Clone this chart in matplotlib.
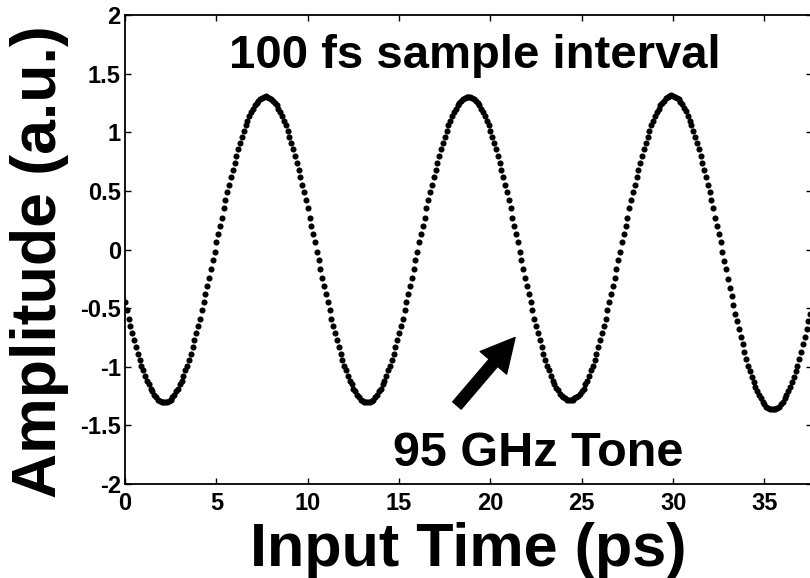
import matplotlib
matplotlib.use('Agg')
import matplotlib.pyplot as plt
import numpy as np

plt.rcParams['font.family'] = ['Liberation Sans', 'DejaVu Sans']
plt.rcParams['font.weight'] = 'bold'
plt.rcParams['axes.unicode_minus'] = False

sample_interval_ps = 0.1
amplitude = [
    -0.45, -0.52, -0.59, -0.65, -0.71, -0.77, -0.83, -0.89, -0.94, -0.99, -1.03, -1.08, -1.12, -1.15,
    -1.19, -1.21, -1.24, -1.26, -1.28, -1.29, -1.30, -1.30,
    -1.30, -1.30, -1.29, -1.28, -1.26, -1.24, -1.21, -1.19, -1.15, -1.12, -1.08, -1.03, -0.99, -0.94,
    -0.89, -0.83, -0.77, -0.71, -0.65, -0.59, -0.52, -0.45, -0.38, -0.31, -0.24, -0.17, -0.09, -0.02,
    0.06, 0.13, 0.20, 0.27, 0.35, 0.42, 0.49, 0.55, 0.62, 0.68, 0.74, 0.80, 0.86, 0.91,
    0.96, 1.01, 1.06, 1.10, 1.14, 1.17, 1.20, 1.23, 1.25, 1.27, 1.28, 1.29, 1.30,
    # cycle 1
    1.31, 1.30, 1.29, 1.28, 1.27, 1.25, 1.23, 1.20, 1.17, 1.14, 1.10, 1.06, 1.01, 0.96,
    0.91, 0.86, 0.80, 0.74, 0.68, 0.62, 0.55, 0.49, 0.42, 0.35, 0.27, 0.20, 0.13, 0.06,
    -0.02, -0.09, -0.17, -0.24, -0.31, -0.38, -0.45, -0.52, -0.59, -0.65, -0.71, -0.77, -0.83, -0.89,
    -0.94, -0.99, -1.03, -1.08, -1.12, -1.15, -1.19, -1.21, -1.24, -1.26, -1.28, -1.29, -1.30, -1.30,
    -1.30, -1.30, -1.29, -1.28, -1.26, -1.24, -1.21, -1.19, -1.15, -1.12, -1.08, -1.03, -0.99, -0.94,
    -0.89, -0.83, -0.77, -0.71, -0.65, -0.59, -0.52, -0.45, -0.38, -0.31, -0.24, -0.17, -0.09, -0.02,
    0.06, 0.13, 0.20, 0.27, 0.35, 0.42, 0.49, 0.55, 0.62, 0.68, 0.74, 0.80, 0.86, 0.91,
    0.96, 1.01, 1.06, 1.10, 1.14, 1.17, 1.20, 1.23, 1.25, 1.27, 1.28, 1.29, 1.30,
    # cycle 2
    1.30, 1.30, 1.29, 1.28, 1.27, 1.25, 1.23, 1.20, 1.17, 1.14, 1.10, 1.06, 1.01, 0.96,
    0.91, 0.86, 0.80, 0.74, 0.68, 0.62, 0.55, 0.49, 0.42, 0.35, 0.27, 0.20, 0.13, 0.06,
    -0.02, -0.09, -0.17, -0.24, -0.31, -0.38, -0.45, -0.52, -0.59, -0.65, -0.71, -0.77, -0.83, -0.89,
    -0.94, -0.99, -1.03, -1.08, -1.12, -1.15, -1.18, -1.20, -1.23, -1.25, -1.26, -1.27, -1.28, -1.28,
    -1.28, -1.28, -1.27, -1.26, -1.25, -1.23, -1.21, -1.19, -1.15, -1.12, -1.08, -1.03, -0.99, -0.94,
    -0.89, -0.83, -0.77, -0.71, -0.65, -0.59, -0.52, -0.45, -0.38, -0.31, -0.24, -0.17, -0.09, -0.02,
    0.06, 0.13, 0.20, 0.27, 0.35, 0.42, 0.49, 0.55, 0.62, 0.68, 0.74, 0.80, 0.86, 0.91,
    0.96, 1.01, 1.06, 1.10, 1.14, 1.17, 1.20, 1.23, 1.25, 1.27, 1.29, 1.30, 1.31,
    # cycle 3
    1.32, 1.31, 1.30, 1.29, 1.28, 1.26, 1.24, 1.21, 1.18, 1.14, 1.10, 1.06, 1.01, 0.96,
    0.91, 0.86, 0.80, 0.74, 0.68, 0.62, 0.55, 0.49, 0.42, 0.35, 0.27, 0.20, 0.13, 0.06,
    -0.02, -0.10, -0.17, -0.25, -0.33, -0.40, -0.47, -0.55, -0.61, -0.68, -0.75, -0.81, -0.87, -0.93,
    -0.99, -1.04, -1.09, -1.13, -1.17, -1.21, -1.24, -1.27, -1.30, -1.32, -1.34, -1.35, -1.36, -1.36,
    -1.36, -1.36, -1.35, -1.34, -1.32, -1.30, -1.27, -1.24, -1.21, -1.17, -1.13, -1.09, -1.04, -0.99,
    -0.93, -0.87, -0.81, -0.75, -0.68, -0.61, -0.55,
]
time_ps = np.arange(len(amplitude)) * sample_interval_ps

x_ticks = [0, 5, 10, 15, 20, 25, 30, 35]
y_ticks = [-2, -1.5, -1, -0.5, 0, 0.5, 1, 1.5, 2]
y_tick_labels = ['-2', '-1.5', '-1', '-0.5', '0', '0.5', '1', '1.5', '2']

fig = plt.figure(figsize=(8.1, 5.78), dpi=100)
ax = fig.add_axes([0.1543, 0.1626, 0.8477, 0.8114])

ax.plot(time_ps, amplitude, 'o', color='black', markersize=4.4, markeredgewidth=0)

ax.set_xlim(0, 37.58)
ax.set_ylim(-2, 2)
ax.set_xticks(x_ticks)
ax.set_yticks(y_ticks)
ax.set_yticklabels(y_tick_labels)
ax.tick_params(direction='in', length=4, width=1, top=True, right=True, labelsize=17)
ax.tick_params(axis='x', pad=6)
ax.tick_params(axis='y', pad=3)
for sp in ax.spines.values():
    sp.set_linewidth(1.3)

ax.set_xlabel('Input Time (ps)', fontsize=44, fontweight='bold')
ax.set_ylabel('Amplitude (a.u.)', fontsize=45, fontweight='bold')
ax.xaxis.set_label_coords(0.5, -0.08)
ax.yaxis.set_label_coords(-0.082, 0.475)

ax.text(19.15, 1.65, '100 fs sample interval', fontsize=34, fontweight='bold',
        ha='center', va='center')
ax.text(22.6, -1.74, '95 GHz Tone', fontsize=35, fontweight='bold',
        ha='center', va='center')

# arrow pointing at the tone
ax.annotate('', xy=(21.35, -0.75), xytext=(18.17, -1.33),
            arrowprops=dict(facecolor='black', edgecolor='black', width=8,
                            headwidth=25, headlength=24, shrink=0))

fig.savefig('out.png', dpi=100)
